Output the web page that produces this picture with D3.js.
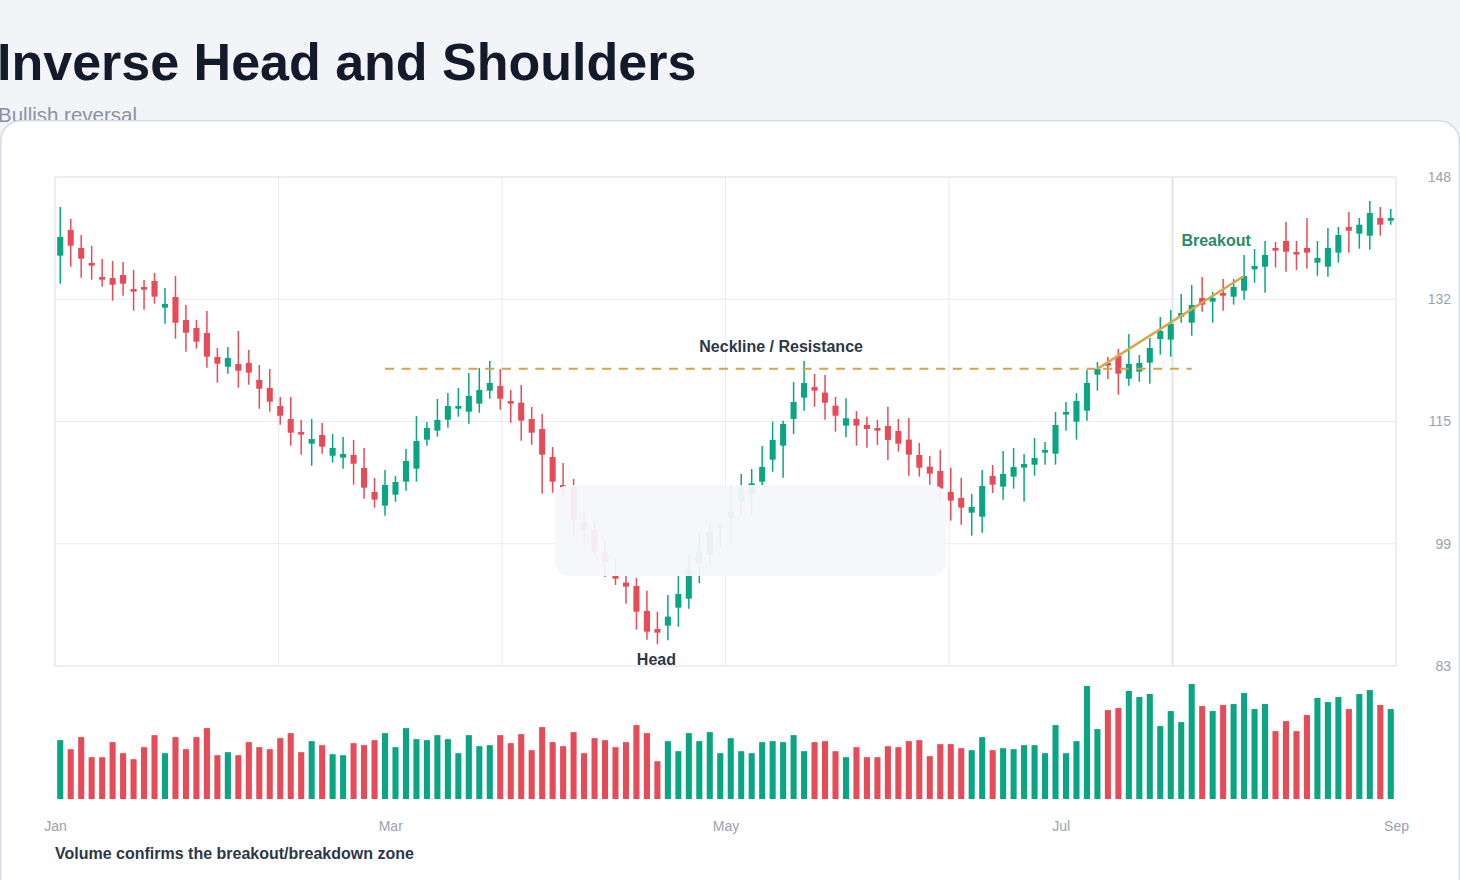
<!DOCTYPE html>
<html>
<head>
<meta charset="utf-8">
<script src="https://cdn.jsdelivr.net/npm/d3@7"></script>
<style>
  html, body { margin: 0; padding: 0; background: #f3f4f8; overflow: hidden; }
  svg { display: block; font-family: "Liberation Sans", Arial, Helvetica, sans-serif; }
</style>
</head>
<body>
<svg id="chart"></svg>
<script>
// month labels along the bottom and price labels on the right
const months = ["Jan", "Mar", "May", "Jul", "Sep"];
const priceLabels = ["83", "99", "115", "132", "148"];

// daily OHLC
const open = [137.54,140.96,138.56,136.57,134.71,134.57,134.97,133.11,133.38,134.18,
  130.63,132.05,128.99,127.93,127.26,124.07,122.78,123.14,123.28,121.02,
  119.95,117.56,115.83,114.10,112.55,113.71,110.95,110.69,111.05,109.32,
  106.13,104.31,105.77,107.50,109.23,113.08,114.28,115.74,117.20,116.80,
  117.87,119.59,120.22,118.23,118.00,115.83,114.50,110.78,107.06,106.80,
  102.14,101.08,98.16,94.97,94.08,93.64,90.32,87.92,88.36,90.75,
  91.95,96.65,97.76,101.31,102.64,104.84,105.73,107.50,110.43,112.29,
  115.84,118.67,120.09,119.33,117.60,114.95,115.84,115.04,114.64,114.91,
  114.24,113.09,111.05,109.50,108.92,106.13,105.34,103.38,102.85,108.26,
  106.84,108.17,109.36,109.76,111.36,111.22,116.41,115.48,116.94,121.72,
  123.28,124.21,121.19,122.12,123.32,126.47,126.38,129.43,128.64,131.92,
  131.43,132.58,132.09,132.89,135.73,136.08,138.57,139.50,138.03,138.57,
  136.61,136.08,137.94,141.36,140.47,140.20,142.55,142.19];

const high = [144.01,142.42,140.29,138.83,137.10,136.83,136.70,135.64,134.31,135.24,
  133.25,134.84,130.99,128.99,130.19,125.27,125.40,127.53,125.00,123.01,
  122.48,118.76,118.76,115.70,115.83,115.30,113.84,113.44,113.04,111.98,
  107.99,109.05,108.26,111.85,116.23,115.43,118.49,119.29,119.95,121.95,
  122.61,123.54,122.48,119.69,120.35,117.43,116.50,112.11,109.99,107.86,
  103.47,102.14,99.75,97.36,95.10,94.74,93.01,90.22,92.44,95.10,
  97.76,100.64,101.97,102.14,107.06,108.53,109.19,112.25,115.48,115.60,
  120.75,123.55,121.82,121.68,118.76,118.59,116.90,116.14,115.70,117.47,
  115.84,115.97,112.65,110.92,111.72,109.36,108.03,105.87,109.06,109.72,
  111.58,111.98,111.18,113.31,112.78,116.77,118.10,119.29,122.35,123.41,
  124.08,125.14,127.14,124.34,126.60,129.39,130.32,132.45,133.65,134.71,
  132.72,134.44,134.44,137.64,138.43,139.50,139.36,142.02,139.50,142.55,
  139.50,141.22,141.36,143.35,142.55,144.81,144.01,143.75];

const low = [133.82,136.08,134.62,134.35,133.42,131.56,132.22,130.23,130.36,131.16,
  128.50,126.51,124.78,125.18,122.65,120.66,121.85,119.99,120.39,117.20,
  116.80,115.08,112.28,111.09,109.63,111.22,110.02,109.23,107.10,105.24,
  104.04,102.98,104.84,106.30,107.50,112.28,113.48,114.68,116.14,115.21,
  116.67,118.53,117.07,115.34,112.95,112.42,105.90,106.04,105.73,100.15,
  99.49,97.63,94.83,93.77,91.29,87.83,86.50,85.89,86.42,88.23,
  90.62,94.00,96.43,98.65,99.09,103.08,103.08,107.06,108.83,108.03,
  113.84,116.94,117.47,115.74,114.15,113.40,112.29,112.02,112.38,110.39,
  111.49,108.30,108.17,107.10,105.07,102.32,101.79,100.32,100.72,106.00,
  105.11,106.57,104.84,108.30,109.76,109.76,114.28,113.09,115.61,119.60,
  121.15,119.07,120.26,120.79,120.53,124.38,124.12,128.64,126.91,130.10,
  128.64,130.23,131.03,131.69,133.95,132.62,135.95,135.41,135.64,135.81,
  134.88,134.75,136.61,137.94,138.47,138.34,140.20,141.66];

const close = [140.02,138.87,137.14,136.21,134.35,133.68,133.82,132.75,133.02,132.09,
  131.12,128.63,127.30,126.11,124.11,123.18,123.94,122.25,121.99,119.86,
  118.13,116.27,114.01,113.75,113.17,112.15,111.98,111.18,109.89,106.70,
  105.11,107.06,107.46,110.25,112.91,114.64,115.70,117.56,117.56,118.89,
  119.69,120.62,118.53,117.87,115.61,114.01,111.09,107.50,106.73,102.41,
  101.08,98.20,96.83,94.61,93.55,90.22,87.56,87.43,89.56,92.57,
  95.90,98.20,100.86,101.75,103.51,106.67,107.29,109.46,113.05,115.17,
  118.10,120.62,119.60,118.00,116.27,115.93,114.95,114.51,114.28,113.05,
  112.55,111.09,109.36,108.57,106.57,104.98,104.05,104.14,106.93,107.10,
  108.53,109.46,109.85,110.65,111.72,115.04,116.77,118.23,120.62,122.48,
  122.92,121.86,123.15,123.28,125.27,127.53,128.46,129.93,130.99,131.03,
  131.92,132.22,133.38,134.84,136.17,137.64,138.21,138.07,137.73,137.94,
  137.24,138.57,140.29,140.86,141.66,143.22,141.66,142.55];

// volume, thousands
const volume = [587,497,617,417,417,567,457,397,517,637,
  457,617,497,617,707,437,467,437,567,517,
  497,607,657,467,577,537,447,437,557,537,
  587,657,517,707,597,587,637,597,457,637,
  527,537,637,557,647,487,717,567,527,667,
  457,607,587,517,567,737,657,377,577,477,
  657,577,667,457,607,477,457,567,577,567,
  637,477,567,577,477,417,517,417,417,527,
  517,577,587,427,547,547,507,487,617,487,
  507,497,537,537,457,737,457,577,1127,697,
  887,907,1077,1017,1047,727,877,767,1147,927,
  877,937,947,1057,897,947,677,777,677,837,
  1007,967,1017,897,1047,1087,937,897];

// pattern levels
const neckline = 122.5;
const necklineFrom = 31, necklineTo = 108;
const breakoutFrom = 99, breakoutTo = 113;
const headIndex = 57;

const width = 1460, height = 880;
const plot = { left: 55, right: 1396, top: 177, bottom: 666 };
const vol = { top: 684, bottom: 799 };
const up = "#0aa683", down = "#e64c58";

const svg = d3.select("#chart").attr("width", width).attr("height", height);

// header
svg.append("text").attr("x", -3).attr("y", 80)
  .attr("font-size", 52).attr("font-weight", "bold").attr("fill", "#131a2b")
  .text("Inverse Head and Shoulders");
svg.append("text").attr("x", -2).attr("y", 122)
  .attr("font-size", 20.5).attr("fill", "#8a92a4")
  .text("Bullish reversal");

// card
svg.append("rect").attr("x", 0.75).attr("y", 120.75)
  .attr("width", 1458.5).attr("height", 820).attr("rx", 20)
  .attr("fill", "#fff").attr("stroke", "#d7dbe7").attr("stroke-width", 1.5);

const n = open.length;
const x = d3.scaleBand().domain(d3.range(n)).range([plot.left, plot.right]);
const cx = i => x(i) + x.bandwidth() / 2;
const bodyW = x.bandwidth() * 0.58;

const y = d3.scaleLinear().domain([83, 148]).range([plot.bottom, plot.top]);
const yv = d3.scaleLinear().domain([0, d3.max(volume)]).range([vol.bottom, vol.top]);
const gridX = d3.scaleLinear().domain([0, 6]).range([plot.left, plot.right]);
const monthX = d3.scaleLinear().domain([0, months.length - 1]).range([plot.left, plot.right]);
const yTicks = d3.range(priceLabels.length).map(i => 83 + i * (148 - 83) / (priceLabels.length - 1));

// grid
const grid = svg.append("g");
grid.selectAll(".gy").data(yTicks).enter().append("line")
  .attr("x1", plot.left).attr("x2", plot.right)
  .attr("y1", d => y(d)).attr("y2", d => y(d))
  .attr("stroke", "#e9ebf1").attr("stroke-width", 1);
grid.selectAll(".gx").data(d3.range(7)).enter().append("line")
  .attr("x1", d => gridX(d)).attr("x2", d => gridX(d))
  .attr("y1", plot.top).attr("y2", plot.bottom)
  .attr("stroke", d => d === 5 ? "#e1e4ec" : "#e9ebf1")
  .attr("stroke-width", d => d === 5 ? 2 : 1);
svg.append("rect").attr("x", plot.left).attr("y", plot.top)
  .attr("width", plot.right - plot.left).attr("height", plot.bottom - plot.top)
  .attr("fill", "none").attr("stroke", "#e6e8ef");

// y axis on the right
const yAxis = d3.axisLeft(y).tickValues(yTicks)
  .tickFormat((d, i) => priceLabels[i]).tickSize(0).tickPadding(0);
const gy = svg.append("g").attr("transform", `translate(1451,0)`).call(yAxis);
gy.select(".domain").remove();
gy.selectAll("text").attr("font-size", 14).attr("fill", "#9aa1b0")
  .attr("font-family", "Liberation Sans, Arial, sans-serif");

// x axis (months)
const xAxis = d3.axisBottom(monthX).tickValues(d3.range(months.length))
  .tickFormat(i => months[i]).tickSize(0).tickPadding(0);
const gx = svg.append("g").attr("transform", `translate(0,821)`).call(xAxis);
gx.select(".domain").remove();
gx.selectAll("text").attr("font-size", 14).attr("fill", "#9aa1b0")
  .attr("font-family", "Liberation Sans, Arial, sans-serif");

// candles
const idx = d3.range(n);
const candles = svg.append("g").selectAll("g").data(idx).enter().append("g");
candles.append("line")
  .attr("x1", cx).attr("x2", cx)
  .attr("y1", i => y(high[i])).attr("y2", i => y(low[i]))
  .attr("stroke", i => close[i] >= open[i] ? up : down).attr("stroke-width", 1.5);
candles.append("rect")
  .attr("x", i => cx(i) - bodyW / 2).attr("width", bodyW)
  .attr("y", i => y(Math.max(open[i], close[i])))
  .attr("height", i => Math.max(2.5, Math.abs(y(open[i]) - y(close[i]))))
  .attr("fill", i => close[i] >= open[i] ? up : down);

// volume
svg.append("g").selectAll("rect").data(idx).enter().append("rect")
  .attr("x", i => cx(i) - bodyW / 2).attr("width", bodyW)
  .attr("y", i => yv(volume[i])).attr("height", i => vol.bottom - yv(volume[i]))
  .attr("fill", i => close[i] >= open[i] ? up : down);

// neckline + breakout
svg.append("line")
  .attr("x1", cx(necklineFrom)).attr("x2", cx(necklineTo))
  .attr("y1", y(neckline)).attr("y2", y(neckline))
  .attr("stroke", "#d6a34a").attr("stroke-width", 2).attr("stroke-dasharray", "9,7.7");
svg.append("line")
  .attr("x1", cx(breakoutFrom)).attr("y1", y(neckline))
  .attr("x2", cx(breakoutTo)).attr("y2", y(close[breakoutTo]))
  .attr("stroke", "#d9a64c").attr("stroke-width", 2.5);

svg.append("text").attr("x", cx(69) - 2).attr("y", y(neckline) - 17)
  .attr("text-anchor", "middle").attr("font-size", 16).attr("font-weight", "bold")
  .attr("fill", "#2d3748").text("Neckline / Resistance");
svg.append("text").attr("x", cx(headIndex) - 1).attr("y", y(low[headIndex]) + 21)
  .attr("text-anchor", "middle").attr("font-size", 16).attr("font-weight", "bold")
  .attr("fill", "#2d3748").text("Head");
svg.append("text").attr("x", cx(breakoutTo) - 28).attr("y", y(close[breakoutTo]) - 30)
  .attr("text-anchor", "middle").attr("font-size", 16).attr("font-weight", "bold")
  .attr("fill", "#2a8a69").text("Breakout");

// empty panel over the head
svg.append("rect").attr("x", 555).attr("y", 485).attr("width", 391).attr("height", 91)
  .attr("rx", 14).attr("fill", "#f5f6fa").attr("opacity", 0.94);

svg.append("text").attr("x", 55).attr("y", 859)
  .attr("font-size", 16).attr("font-weight", "bold").attr("fill", "#2d3748")
  .text("Volume confirms the breakout/breakdown zone");
</script>
</body>
</html>
